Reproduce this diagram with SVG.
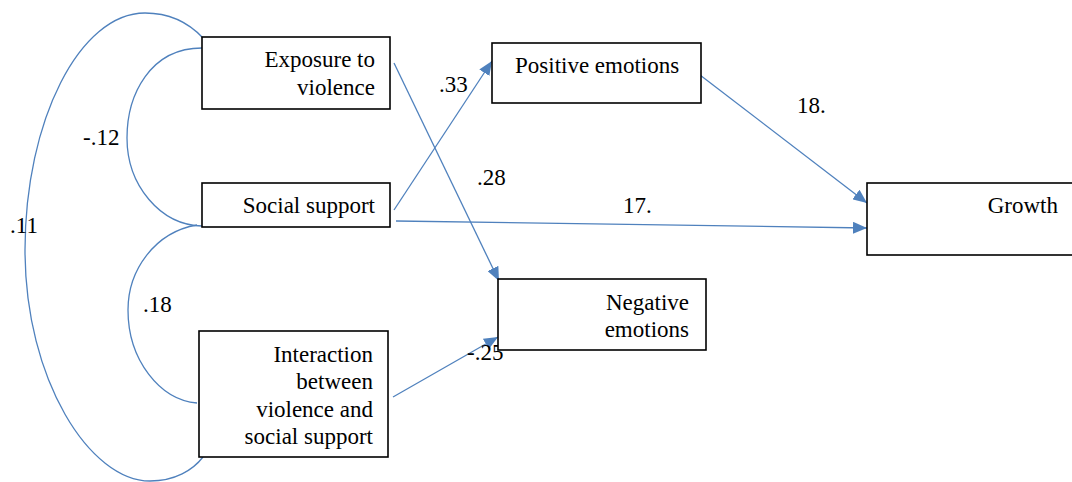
<svg xmlns="http://www.w3.org/2000/svg" width="1072" height="482" viewBox="0 0 1072 482">
<style>
.box{fill:#fff;stroke:#000;stroke-width:1.6}
.c{fill:none;stroke:#4f81bd;stroke-width:1.3}
</style>
<defs>
<marker id="ah" markerUnits="userSpaceOnUse" markerWidth="16" markerHeight="12" refX="14" refY="6" orient="auto">
<path d="M0,0 L14,6 L0,12 Z" fill="#4f81bd"/>
</marker>
</defs>
<g id="connectors">
<path class="c" d="M203 38 C188 22 168 13 145 13 C80 13 25 120 25 250 C25 380 90 481 150 481 C175 481 193 470 203 457"/>
<path class="c" d="M202 48 C150 48 127 95 127 138 C127 185 160 225 202 226"/>
<path class="c" d="M197 225 C155 232 128 270 128 310 C128 360 160 400 197 403"/>
<line class="c" x1="394" y1="63" x2="499" y2="281" marker-end="url(#ah)"/>
<line class="c" x1="394" y1="210" x2="492" y2="61" marker-end="url(#ah)"/>
<line class="c" x1="396" y1="221" x2="867" y2="228" marker-end="url(#ah)"/>
<line class="c" x1="700" y1="75" x2="867" y2="203" marker-end="url(#ah)"/>
<line class="c" x1="393" y1="397" x2="498" y2="337" marker-end="url(#ah)"/>
<text font-family="Times New Roman" font-size="23" x="10" y="233">.11</text>
<text font-family="Times New Roman" font-size="23" x="83" y="145">-.12</text>
<text font-family="Times New Roman" font-size="23" x="143" y="312">.18</text>
<text font-family="Times New Roman" font-size="23" x="439" y="92">.33</text>
<text font-family="Times New Roman" font-size="23" x="477" y="185">.28</text>
<text font-family="Times New Roman" font-size="23" x="623" y="213">17.</text>
<text font-family="Times New Roman" font-size="23" x="797" y="113">18.</text>
<text font-family="Times New Roman" font-size="23" x="467" y="360">-.25</text>
</g>
<g id="exposure">
<rect class="box" x="202" y="37" width="188" height="72"/>
<text font-family="Times New Roman" font-size="23" text-anchor="end" x="375" y="67">Exposure to</text>
<text font-family="Times New Roman" font-size="23" text-anchor="end" x="375" y="95">violence</text>
</g>
<g id="social">
<rect class="box" x="202" y="183" width="188" height="44"/>
<text font-family="Times New Roman" font-size="23" text-anchor="end" x="375" y="213">Social support</text>
</g>
<g id="interaction">
<rect class="box" x="199" y="331" width="189" height="126"/>
<text font-family="Times New Roman" font-size="23" text-anchor="end" x="373" y="362">Interaction</text>
<text font-family="Times New Roman" font-size="23" text-anchor="end" x="373" y="389">between</text>
<text font-family="Times New Roman" font-size="23" text-anchor="end" x="373" y="417">violence and</text>
<text font-family="Times New Roman" font-size="23" text-anchor="end" x="373" y="444">social support</text>
</g>
<g id="positive">
<rect class="box" x="492" y="43" width="209" height="60"/>
<text font-family="Times New Roman" font-size="23" x="515" y="73">Positive emotions</text>
</g>
<g id="negative">
<rect class="box" x="498" y="279" width="208" height="71"/>
<text font-family="Times New Roman" font-size="23" text-anchor="end" x="689" y="310">Negative</text>
<text font-family="Times New Roman" font-size="23" text-anchor="end" x="689" y="337">emotions</text>
</g>
<g id="growth">
<rect class="box" x="867" y="183" width="210" height="72"/>
<text font-family="Times New Roman" font-size="23" text-anchor="end" x="1058" y="213">Growth</text>
</g>
</svg>
